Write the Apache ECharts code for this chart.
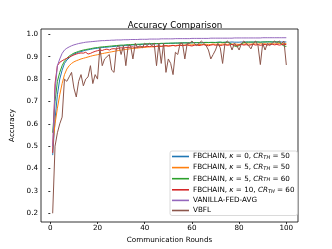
<!DOCTYPE html>
<html><head><meta charset="utf-8">
<script src="https://cdn.jsdelivr.net/npm/echarts@6/dist/echarts.min.js"></script>
<style>html,body{margin:0;padding:0;background:#fff}#c{width:332px;height:249px}</style>
</head><body><div id="c"></div>
<script>
const rounds = Array.from({length: 100}, (_, i) => i + 1);
const xTicks = [0, 20, 40, 60, 80, 100];
const yTicks = [0.2, 0.3, 0.4, 0.5, 0.6, 0.7, 0.8, 0.9, 1.0];
const seriesNames = ['FBCHAIN, k=0, CR=50', 'FBCHAIN, k=5, CR=50', 'FBCHAIN, k=5, CR=60', 'FBCHAIN, k=10, CR=60', 'VANILLA-FED-AVG', 'VBFL'];
const legendParts = [['0','50'],['5','50'],['5','60'],['10','60']];

const fb_k0_cr50 = [
0.46,0.62,0.73,0.80,0.84,0.87,0.885,0.895,0.905,0.912,
0.916,0.92,0.923,0.926,0.929,0.931,0.933,0.935,0.937,0.938,
0.94,0.941,0.942,0.943,0.944,0.945,0.946,0.947,0.948,0.949,
0.95,0.951,0.951,0.952,0.953,0.953,0.954,0.955,0.955,0.956,
0.956,0.957,0.957,0.958,0.958,0.958,0.959,0.959,0.96,0.96,
0.96,0.96,0.961,0.961,0.961,0.962,0.962,0.962,0.962,0.963,
0.963,0.963,0.963,0.963,0.964,0.964,0.964,0.964,0.964,0.964,
0.965,0.965,0.964,0.965,0.965,0.965,0.966,0.965,0.965,0.965,
0.966,0.965,0.966,0.966,0.965,0.966,0.966,0.966,0.965,0.966,
0.966,0.966,0.967,0.966,0.966,0.966,0.967,0.966,0.966,0.966];

const fb_k5_cr50 = [
0.50,0.60,0.67,0.73,0.78,0.82,0.845,0.86,0.87,0.877,
0.882,0.886,0.89,0.893,0.896,0.899,0.902,0.905,0.907,0.909,
0.912,0.914,0.916,0.918,0.92,0.922,0.924,0.926,0.928,0.93,
0.931,0.933,0.934,0.936,0.937,0.938,0.939,0.94,0.941,0.942,
0.943,0.944,0.944,0.945,0.946,0.946,0.947,0.948,0.948,0.949,
0.949,0.95,0.95,0.951,0.951,0.952,0.952,0.953,0.953,0.953,
0.954,0.953,0.955,0.954,0.955,0.956,0.954,0.955,0.957,0.955,
0.956,0.955,0.957,0.956,0.955,0.957,0.956,0.958,0.956,0.955,
0.957,0.956,0.958,0.957,0.956,0.958,0.957,0.956,0.958,0.957,
0.958,0.956,0.959,0.957,0.958,0.957,0.959,0.958,0.958,0.959];

const fb_k5_cr60 = [
0.56,0.70,0.79,0.83,0.86,0.88,0.893,0.903,0.91,0.916,
0.92,0.924,0.927,0.93,0.932,0.934,0.936,0.938,0.94,0.941,
0.943,0.944,0.945,0.946,0.947,0.948,0.949,0.95,0.951,0.952,
0.952,0.953,0.954,0.954,0.955,0.955,0.956,0.956,0.957,0.957,
0.958,0.958,0.958,0.959,0.959,0.959,0.96,0.96,0.96,0.96,
0.961,0.961,0.961,0.961,0.962,0.962,0.962,0.962,0.962,0.962,
0.963,0.963,0.963,0.962,0.963,0.964,0.963,0.964,0.964,0.963,
0.964,0.965,0.964,0.964,0.965,0.962,0.955,0.948,0.945,0.95,
0.958,0.963,0.965,0.965,0.966,0.965,0.966,0.966,0.965,0.966,
0.966,0.967,0.966,0.966,0.967,0.966,0.966,0.955,0.948,0.946];

const fb_k10_cr60 = [
0.47,0.78,0.86,0.875,0.882,0.888,0.893,0.898,0.903,0.908,
0.912,0.915,0.917,0.916,0.92,0.912,0.915,0.92,0.924,0.927,
0.93,0.928,0.932,0.934,0.93,0.935,0.936,0.934,0.938,0.94,
0.938,0.942,0.941,0.943,0.944,0.94,0.945,0.943,0.946,0.944,
0.947,0.945,0.948,0.944,0.947,0.949,0.946,0.948,0.95,0.947,
0.949,0.951,0.948,0.95,0.952,0.949,0.951,0.953,0.95,0.948,
0.951,0.953,0.95,0.952,0.954,0.951,0.949,0.952,0.954,0.951,
0.953,0.95,0.952,0.954,0.951,0.953,0.955,0.952,0.95,0.953,
0.955,0.952,0.954,0.951,0.953,0.955,0.952,0.954,0.951,0.953,
0.955,0.952,0.954,0.956,0.953,0.955,0.952,0.954,0.956,0.954];

const vanilla = [
0.50,0.75,0.86,0.89,0.915,0.93,0.938,0.944,0.949,0.953,
0.956,0.959,0.961,0.963,0.965,0.966,0.967,0.968,0.969,0.97,
0.971,0.972,0.972,0.973,0.973,0.974,0.974,0.975,0.975,0.975,
0.976,0.976,0.976,0.977,0.977,0.977,0.977,0.978,0.978,0.978,
0.978,0.979,0.979,0.979,0.979,0.979,0.98,0.98,0.98,0.98,
0.98,0.98,0.981,0.981,0.981,0.981,0.981,0.981,0.981,0.982,
0.982,0.982,0.982,0.982,0.982,0.982,0.982,0.983,0.983,0.983,
0.983,0.983,0.983,0.983,0.983,0.983,0.983,0.984,0.984,0.984,
0.984,0.984,0.984,0.984,0.984,0.984,0.984,0.984,0.984,0.985,
0.985,0.985,0.985,0.985,0.985,0.985,0.985,0.985,0.985,0.985];

const vbfl = [
0.20,0.50,0.56,0.60,0.63,0.80,0.79,0.81,0.83,0.76,
0.72,0.79,0.82,0.77,0.80,0.81,0.86,0.78,0.82,0.80,
0.94,0.86,0.89,0.90,0.91,0.84,0.83,0.94,0.95,0.91,
0.95,0.86,0.95,0.95,0.89,0.96,0.94,0.95,0.94,0.96,
0.95,0.96,0.95,0.96,0.86,0.96,0.87,0.96,0.83,0.89,
0.87,0.82,0.92,0.91,0.96,0.96,0.89,0.96,0.96,0.97,
0.96,0.95,0.96,0.97,0.96,0.95,0.93,0.89,0.91,0.93,
0.96,0.94,0.87,0.96,0.97,0.96,0.93,0.96,0.95,0.93,
0.96,0.97,0.96,0.95,0.935,0.96,0.97,0.95,0.865,0.96,
0.93,0.96,0.95,0.96,0.97,0.96,0.97,0.96,0.97,0.863];

const allData = [fb_k0_cr50, fb_k5_cr50, fb_k5_cr60, fb_k10_cr60, vanilla, vbfl];
const colors = ['#1f77b4', '#ff7f0e', '#2ca02c', '#d62728', '#9467bd', '#8c564b'];

const FONT = 'DejaVu Sans';
const chart = echarts.init(document.getElementById('c'), null, {renderer: 'canvas'});
chart.setOption({
  animation: false,
  backgroundColor: '#fff',
  title: {text: 'Accuracy Comparison', left: 170, top: 16, textAlign: 'center',
    textStyle: {fontFamily: FONT, fontSize: 8.7, fontWeight: 'normal', color: '#000'}},
  grid: {left: 41, right: 34, top: 29, bottom: 27, show: true, borderColor: '#000', borderWidth: 0.8, backgroundColor: 'transparent'},
  xAxis: {type: 'value', min: -3.95, max: 104.95,
    name: 'Communication Rounds', nameLocation: 'middle', nameGap: 13,
    nameTextStyle: {fontFamily: FONT, fontSize: 7.2, color: '#000'},
    axisLine: {show: false}, splitLine: {show: false},
    axisTick: {show: true, length: 2, lineStyle: {color: '#000', width: 0.8}, customValues: xTicks},
    axisLabel: {fontFamily: FONT, fontSize: 7.2, color: '#000', margin: 3, customValues: xTicks}},
  yAxis: {type: 'value', min: 0.161, max: 1.024,
    name: 'Accuracy', nameLocation: 'middle', nameGap: 18, nameRotate: 90,
    nameTextStyle: {fontFamily: FONT, fontSize: 7.2, color: '#000'},
    axisLine: {show: false}, splitLine: {show: false},
    axisTick: {show: true, length: 2, lineStyle: {color: '#000', width: 0.8}, customValues: yTicks},
    axisLabel: {fontFamily: FONT, fontSize: 7.2, color: '#000', margin: 3, customValues: yTicks,
      formatter: v => v.toFixed(1)}},
  legend: {orient: 'vertical', left: 170, top: 151, width: 123,
    padding: [1.5, 3, 1.5, 2], itemGap: 3.1, itemWidth: 17, itemHeight: 1.6,
    backgroundColor: 'rgba(255,255,255,0.8)', borderColor: '#d0d0d0', borderWidth: 0.8, borderRadius: 2,
    icon: 'rect',
    data: seriesNames.map((n, i) => ({name: n, icon: 'rect', itemStyle: {color: colors[i]}})),
    formatter: function (name) {
      const i = seriesNames.indexOf(name);
      if (i < 4) {
        const p = legendParts[i];
        return '{t|FBCHAIN, }{i|κ}{t| = ' + p[0] + ', }{i|CR}{s|TH}{t| = ' + p[1] + '}';
      }
      return '{t|' + name + '}';
    },
    textStyle: {fontFamily: FONT, fontSize: 7.2, color: '#000', padding: [0, 0, 0, -1],
      rich: {
        t: {fontFamily: FONT, fontSize: 7.2, color: '#000', lineHeight: 8},
        i: {fontFamily: FONT, fontSize: 7.2, fontStyle: 'italic', color: '#000', lineHeight: 8},
        s: {fontFamily: FONT, fontSize: 5, fontStyle: 'italic', color: '#000', lineHeight: 8, padding: [3, 0, 0, 0]}
      }}},
  series: allData.map((d, i) => ({
    name: seriesNames[i], type: 'line', showSymbol: false, symbol: 'none',
    data: d.map((v, j) => [rounds[j], v]),
    lineStyle: {color: colors[i], width: 1},
    itemStyle: {color: colors[i]}, z: 2 + i
  }))
});
</script></body></html>
